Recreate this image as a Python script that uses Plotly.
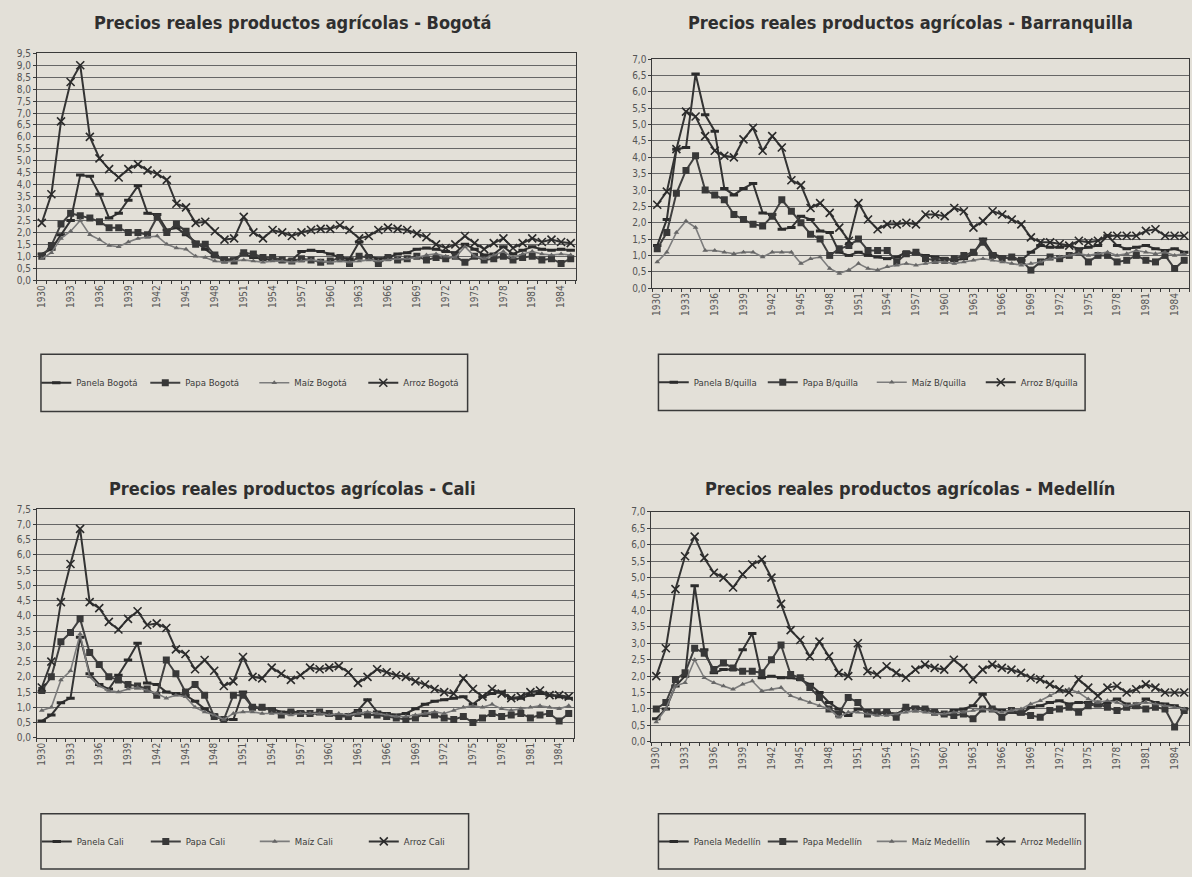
import plotly.graph_objects as go

years = list(range(1930, 1986))

# ---------------- Bogotá ----------------
panela_bogota = [1.1, 1.3, 1.9, 2.5, 4.4, 4.35, 3.6, 2.6, 2.8, 3.35, 3.95, 2.8, 2.75, 2.1, 2.2, 1.9,
                 1.6, 1.3, 1.0, 0.85, 0.9, 1.1, 0.95, 0.9, 0.85, 0.8, 0.85, 1.2, 1.25, 1.2, 1.1, 0.95,
                 0.9, 1.6, 1.0, 0.9, 0.95, 1.1, 1.15, 1.3, 1.35, 1.3, 1.2, 1.15, 1.5, 1.3, 1.05, 1.1,
                 1.4, 1.1, 1.25, 1.4, 1.3, 1.25, 1.3, 1.25]
papa_bogota = [1.0, 1.45, 2.35, 2.8, 2.7, 2.6, 2.45, 2.2, 2.2, 2.0, 2.0, 1.9, 2.65, 2.0, 2.35, 2.05,
               1.5, 1.5, 1.05, 0.85, 0.8, 1.15, 1.1, 0.95, 0.95, 0.85, 0.8, 0.9, 0.85, 0.75, 0.8, 0.95,
               0.7, 1.0, 0.95, 0.7, 0.95, 0.85, 0.9, 1.0, 0.85, 0.95, 0.9, 1.0, 0.75, 1.0, 0.85, 0.9,
               1.0, 0.85, 0.95, 1.0, 0.85, 0.9, 0.7, 0.9]
maiz_bogota = [0.9, 1.15, 1.75, 2.05, 2.5, 1.9, 1.7, 1.45, 1.4, 1.6, 1.75, 1.8, 1.85, 1.5, 1.35, 1.3,
               1.0, 0.95, 0.8, 0.75, 0.8, 0.85, 0.8, 0.75, 0.8, 0.8, 0.75, 0.8, 0.85, 0.8, 0.75, 0.8,
               0.75, 0.8, 0.85, 0.8, 0.85, 0.9, 0.9, 0.95, 1.05, 1.1, 1.0, 0.95, 1.4, 1.0, 0.9, 1.05,
               1.2, 0.95, 1.1, 1.2, 1.1, 1.05, 1.1, 1.05]
arroz_bogota = [2.4, 3.6, 6.65, 8.3, 9.0, 6.0, 5.1, 4.65, 4.3, 4.65, 4.85, 4.6, 4.45, 4.2, 3.2, 3.05,
                2.4, 2.45, 2.05, 1.7, 1.75, 2.65, 2.0, 1.75, 2.1, 2.0, 1.85, 2.0, 2.1, 2.15, 2.15, 2.3,
                2.1, 1.75, 1.85, 2.1, 2.2, 2.15, 2.1, 1.95, 1.8, 1.5, 1.35, 1.5, 1.85, 1.55, 1.3, 1.55,
                1.75, 1.35, 1.55, 1.75, 1.6, 1.7, 1.6, 1.55]

# ---------------- Barranquilla ----------------
panela_barranquilla = [1.3, 2.1, 4.25, 4.3, 6.55, 5.3, 4.8, 3.05, 2.85, 3.05, 3.2, 2.3, 2.25, 1.8, 1.85, 2.2,
                       2.1, 1.75, 1.7, 1.1, 1.0, 1.1, 1.0, 0.95, 0.9, 0.95, 1.1, 1.05, 1.0, 0.95, 0.9, 0.85,
                       0.9, 1.05, 1.5, 1.05, 0.95, 0.9, 0.85, 1.1, 1.3, 1.25, 1.25, 1.3, 1.2, 1.25, 1.3, 1.6,
                       1.3, 1.2, 1.25, 1.3, 1.2, 1.15, 1.2, 1.1]
papa_barranquilla = [1.2, 1.7, 2.9, 3.6, 4.05, 3.0, 2.85, 2.7, 2.25, 2.1, 1.95, 1.9, 2.2, 2.7, 2.35, 2.0,
                     1.65, 1.5, 1.0, 1.2, 1.3, 1.5, 1.15, 1.15, 1.15, 0.8, 1.05, 1.1, 0.9, 0.85, 0.85, 0.9,
                     1.0, 1.1, 1.4, 1.0, 0.9, 0.95, 0.85, 0.55, 0.8, 0.95, 0.9, 1.0, 1.1, 0.8, 1.0, 1.0,
                     0.8, 0.85, 1.0, 0.85, 0.8, 1.0, 0.6, 0.85]
maiz_barranquilla = [0.8, 1.1, 1.7, 2.05, 1.85, 1.15, 1.15, 1.1, 1.05, 1.1, 1.1, 0.95, 1.1, 1.1, 1.1, 0.75,
                     0.9, 0.95, 0.6, 0.45, 0.55, 0.75, 0.6, 0.55, 0.65, 0.7, 0.75, 0.7, 0.75, 0.8, 0.8, 0.75,
                     0.8, 0.85, 0.9, 0.85, 0.8, 0.75, 0.7, 0.75, 0.8, 0.9, 0.95, 1.0, 1.05, 1.0, 1.05, 1.1,
                     1.0, 1.05, 1.15, 1.1, 1.05, 1.1, 1.0, 1.05]
arroz_barranquilla = [2.55, 2.95, 4.25, 5.4, 5.25, 4.65, 4.2, 4.05, 4.0, 4.55, 4.9, 4.2, 4.65, 4.3, 3.3, 3.15,
                      2.45, 2.6, 2.3, 1.85, 1.45, 2.6, 2.1, 1.8, 1.95, 1.95, 2.0, 1.95, 2.25, 2.25, 2.2, 2.45,
                      2.35, 1.85, 2.05, 2.35, 2.25, 2.1, 1.95, 1.55, 1.4, 1.4, 1.35, 1.3, 1.45, 1.4, 1.45, 1.6,
                      1.6, 1.6, 1.6, 1.75, 1.8, 1.6, 1.6, 1.6]

# ---------------- Cali ----------------
panela_cali = [0.55, 0.75, 1.15, 1.3, 3.3, 2.1, 1.75, 1.6, 2.05, 2.55, 3.1, 1.8, 1.75, 1.5, 1.45, 1.4,
               1.2, 0.95, 0.75, 0.6, 0.6, 1.5, 1.0, 0.95, 0.95, 0.85, 0.85, 0.85, 0.8, 0.8, 0.75, 0.75,
               0.75, 0.9, 1.25, 0.85, 0.8, 0.75, 0.8, 0.95, 1.1, 1.2, 1.25, 1.3, 1.35, 1.1, 1.35, 1.45,
               1.5, 1.3, 1.3, 1.4, 1.45, 1.4, 1.35, 1.3]
papa_cali = [1.55, 2.0, 3.15, 3.45, 3.9, 2.8, 2.4, 2.0, 1.9, 1.75, 1.7, 1.6, 1.4, 2.55, 2.1, 1.5,
             1.75, 1.4, 0.7, 0.6, 1.4, 1.4, 1.0, 1.0, 0.9, 0.75, 0.85, 0.8, 0.8, 0.85, 0.8, 0.7,
             0.7, 0.8, 0.75, 0.75, 0.7, 0.65, 0.6, 0.65, 0.8, 0.75, 0.65, 0.6, 0.7, 0.5, 0.65, 0.8,
             0.7, 0.75, 0.8, 0.65, 0.75, 0.8, 0.55, 0.8]
maiz_cali = [0.9, 1.0, 1.9, 2.2, 3.4, 2.0, 1.7, 1.55, 1.5, 1.6, 1.65, 1.55, 1.45, 1.3, 1.4, 1.35,
             1.0, 0.85, 0.75, 0.6, 0.8, 0.85, 0.85, 0.8, 0.8, 0.8, 0.75, 0.8, 0.8, 0.8, 0.75, 0.8,
             0.75, 0.8, 0.85, 0.8, 0.75, 0.7, 0.7, 0.75, 0.8, 0.85, 0.8, 0.9, 1.0, 1.05, 1.0, 1.1,
             0.95, 0.9, 0.95, 1.0, 1.05, 1.0, 0.95, 1.05]
arroz_cali = [1.65, 2.5, 4.45, 5.7, 6.85, 4.45, 4.25, 3.8, 3.55, 3.9, 4.15, 3.7, 3.75, 3.6, 2.9, 2.75,
              2.25, 2.55, 2.2, 1.7, 1.85, 2.65, 2.0, 1.95, 2.3, 2.1, 1.9, 2.05, 2.3, 2.25, 2.3, 2.35,
              2.15, 1.8, 2.0, 2.25, 2.15, 2.05, 2.0, 1.85, 1.75, 1.6, 1.5, 1.45, 1.95, 1.6, 1.35, 1.6,
              1.45, 1.3, 1.35, 1.5, 1.55, 1.4, 1.4, 1.35]

# ---------------- Medellín ----------------
panela_medellin = [0.7, 1.0, 1.7, 2.0, 4.75, 2.8, 2.1, 2.2, 2.2, 2.8, 3.3, 1.95, 2.0, 1.95, 1.95, 1.9,
                   1.75, 1.5, 1.2, 1.0, 0.8, 1.0, 0.95, 0.85, 0.9, 0.85, 1.0, 1.05, 1.0, 0.9, 0.85, 0.95,
                   1.0, 1.1, 1.45, 1.0, 0.95, 0.9, 0.85, 1.05, 1.1, 1.2, 1.25, 1.15, 1.2, 1.2, 1.1, 1.2,
                   1.3, 1.15, 1.05, 1.3, 1.2, 1.15, 1.1, 1.0]
papa_medellin = [1.0, 1.2, 1.9, 2.1, 2.85, 2.7, 2.2, 2.4, 2.25, 2.15, 2.15, 2.1, 2.5, 2.95, 2.05, 1.95,
                 1.65, 1.35, 1.0, 0.85, 1.35, 1.2, 0.85, 0.9, 0.9, 0.75, 1.05, 1.0, 1.0, 0.9, 0.85, 0.8,
                 0.85, 0.7, 1.0, 1.0, 0.75, 0.95, 0.9, 0.8, 0.75, 0.95, 1.0, 1.05, 0.9, 1.1, 1.15, 1.05,
                 0.95, 1.05, 1.1, 1.0, 1.05, 1.0, 0.45, 0.95]
maiz_medellin = [0.6, 1.0, 1.7, 1.8, 2.5, 1.95, 1.8, 1.7, 1.6, 1.75, 1.85, 1.55, 1.6, 1.65, 1.4, 1.3,
                 1.2, 1.1, 1.0, 0.75, 0.9, 0.9, 0.85, 0.8, 0.8, 0.85, 0.9, 0.95, 0.9, 0.85, 0.85, 0.9,
                 0.9, 0.95, 1.0, 0.95, 0.9, 0.95, 1.0, 1.15, 1.25, 1.4, 1.55, 1.6, 1.5, 1.3, 1.2, 1.25,
                 1.2, 1.1, 1.15, 1.2, 1.15, 1.1, 1.05, 1.0]
arroz_medellin = [2.0, 2.85, 4.65, 5.65, 6.25, 5.6, 5.15, 5.0, 4.7, 5.1, 5.4, 5.55, 5.0, 4.2, 3.4, 3.1,
                  2.6, 3.05, 2.6, 2.1, 2.0, 3.0, 2.15, 2.05, 2.3, 2.1, 1.95, 2.2, 2.35, 2.25, 2.2, 2.5,
                  2.25, 1.9, 2.2, 2.35, 2.25, 2.2, 2.1, 1.95, 1.9, 1.75, 1.6, 1.5, 1.9, 1.65, 1.4, 1.65,
                  1.7, 1.5, 1.6, 1.75, 1.65, 1.5, 1.5, 1.5]

products = ["Panela", "Papa", "Maíz", "Arroz"]

panels = [
    dict(title="Precios reales productos agrícolas - Bogotá", tag="Bogotá", ymax=9.5,
         series=[panela_bogota, papa_bogota, maiz_bogota, arroz_bogota]),
    dict(title="Precios reales productos agrícolas - Barranquilla", tag="B/quilla", ymax=7.0,
         series=[panela_barranquilla, papa_barranquilla, maiz_barranquilla, arroz_barranquilla]),
    dict(title="Precios reales productos agrícolas - Cali", tag="Cali", ymax=7.5,
         series=[panela_cali, papa_cali, maiz_cali, arroz_cali]),
    dict(title="Precios reales productos agrícolas - Medellín", tag="Medellín", ymax=7.0,
         series=[panela_medellin, papa_medellin, maiz_medellin, arroz_medellin]),
]

# ---------------- page geometry (pixels) ----------------
W, H = 1192, 877
BG = "#e3e0d8"
INK = "#3a3a3a"
GRID = "#666666"
FONT = "Liberation Sans Narrow, DejaVu Sans Condensed, Arial Narrow, sans-serif"

plot_boxes = [  # (left, right, top, bottom)
    (36, 575, 48, 278),
    (652, 1189, 54, 286),
    (36, 573, 510, 742),
    (651, 1189, 513, 746),
]
title_pos = [(292, 17), (910, 17), (291, 489), (910, 489)]
legend_boxes = [  # (left, right, top, bottom)
    (40, 467, 353, 411),
    (658, 1085, 353, 410),
    (40, 468, 819, 875),
    (658, 1085, 819, 875),
]


def fx(x):
    return x / W


def fy(y):
    return 1 - y / H


styles = {
    "Panela": dict(mode="lines+markers",
                   line=dict(color="#333333", width=2),
                   marker=dict(symbol="line-ew", size=6, color="#2b2b2b",
                               line=dict(color="#2b2b2b", width=3))),
    "Papa": dict(mode="lines+markers",
                 line=dict(color="#404040", width=2),
                 marker=dict(symbol="square", size=7, color="#383838")),
    "Maíz": dict(mode="lines+markers",
                 line=dict(color="#7c7c7c", width=1.6),
                 marker=dict(symbol="triangle-up", size=5, color="#666666")),
    "Arroz": dict(mode="lines+markers",
                  line=dict(color="#333333", width=2),
                  marker=dict(symbol="x-thin", size=8, color="#2b2b2b",
                              line=dict(color="#2b2b2b", width=1.6))),
}

fig = go.Figure()
layout = dict(
    width=W, height=H,
    margin=dict(l=0, r=0, t=0, b=0),
    paper_bgcolor=BG, plot_bgcolor=BG,
    separators=",.",
    font=dict(family=FONT, color="#4a4a4a", size=10),
    annotations=[], shapes=[],
)

for i, panel in enumerate(panels):
    n = i + 1
    xa = "x" if n == 1 else f"x{n}"
    ya = "y" if n == 1 else f"y{n}"
    lg = "legend" if n == 1 else f"legend{n}"
    left, right, top, bottom = plot_boxes[i]

    for prod, values in zip(products, panel["series"]):
        fig.add_trace(go.Scatter(
            x=years, y=values, name=f"{prod} {panel['tag']}",
            xaxis=xa, yaxis=ya, legend=lg, **styles[prod],
        ))

    layout["xaxis" if n == 1 else f"xaxis{n}"] = dict(
        domain=[fx(left), fx(right)], anchor=ya,
        range=[1929.5, 1985.5], tickmode="linear", tick0=1930, dtick=3,
        tickformat="d", tickangle=-90, ticks="",
        minor=dict(tick0=1929.5, dtick=1, ticks="outside", ticklen=3,
                   tickcolor=INK, showgrid=False),
        showgrid=False, zeroline=False,
        showline=True, linecolor=INK, linewidth=1, mirror=True,
        tickfont=dict(family=FONT, size=10, color="#555555"),
    )
    layout["yaxis" if n == 1 else f"yaxis{n}"] = dict(
        domain=[fy(bottom), fy(top)], anchor=xa,
        range=[0, panel["ymax"]], tickmode="linear", tick0=0, dtick=0.5,
        tickformat=".1f", ticks="outside", ticklen=3, tickcolor=INK,
        showgrid=True, gridcolor=GRID, gridwidth=1.2, zeroline=False,
        showline=True, linecolor=INK, linewidth=1, mirror=True,
        tickfont=dict(family=FONT, size=10, color="#555555"),
    )

    tx, ty = title_pos[i]
    layout["annotations"].append(dict(
        text=f"<b>{panel['title']}</b>", x=fx(tx), y=fy(ty),
        xref="paper", yref="paper", xanchor="center", yanchor="middle",
        showarrow=False, font=dict(family=FONT, size=18, color="#2f2f2f"),
    ))

    l0, l1, t0, b0 = legend_boxes[i]
    layout["shapes"].append(dict(
        type="rect", xref="paper", yref="paper",
        x0=fx(l0), x1=fx(l1), y0=fy(b0), y1=fy(t0),
        line=dict(color=INK, width=1.5), fillcolor="rgba(0,0,0,0)",
    ))
    layout[lg] = dict(
        x=fx((l0 + l1) / 2), y=fy((t0 + b0) / 2),
        xanchor="center", yanchor="middle",
        orientation="h", bgcolor="rgba(0,0,0,0)", borderwidth=0,
        entrywidth=64, entrywidthmode="pixels", itemwidth=30,
        font=dict(family=FONT, size=9.5, color="#3a3a3a"),
    )

fig.update_layout(**layout)
fig.write_html("out.html")
